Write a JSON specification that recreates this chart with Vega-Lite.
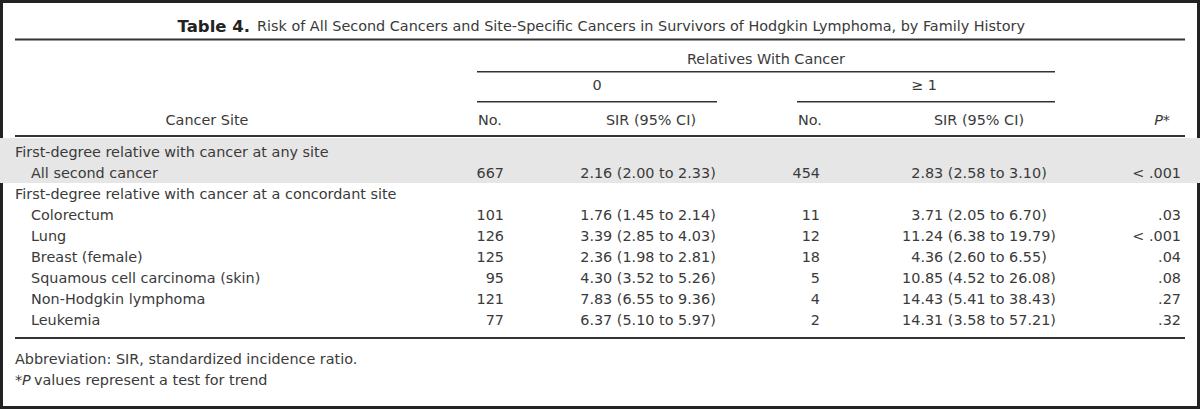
{
  "$schema": "https://vega.github.io/schema/vega-lite/v6.json",
  "width": 1200,
  "height": 409,
  "autosize": {"type": "fit", "contains": "padding"},
  "padding": 0,
  "background": "white",
  "config": {
    "view": {"stroke": "#222222", "strokeWidth": 6},
    "text": {"font": "DejaVu Sans", "fontSize": 14.4, "color": "#3a3a3a", "baseline": "middle"},
    "rule": {"color": "#333333", "strokeWidth": 1.6}
  },
  "datasets": {
    "rows": [
      {"row": 1, "site": "First-degree relative with cancer at any site", "group": true},
      {"row": 2, "site": "All second cancer", "group": false, "no0": 667, "sir0": "2.16 (2.00 to 2.33)", "no1": 454, "sir1": "2.83 (2.58 to 3.10)", "p": "< .001"},
      {"row": 3, "site": "First-degree relative with cancer at a concordant site", "group": true},
      {"row": 4, "site": "Colorectum", "group": false, "no0": 101, "sir0": "1.76 (1.45 to 2.14)", "no1": 11, "sir1": "3.71 (2.05 to 6.70)", "p": ".03"},
      {"row": 5, "site": "Lung", "group": false, "no0": 126, "sir0": "3.39 (2.85 to 4.03)", "no1": 12, "sir1": "11.24 (6.38 to 19.79)", "p": "< .001"},
      {"row": 6, "site": "Breast (female)", "group": false, "no0": 125, "sir0": "2.36 (1.98 to 2.81)", "no1": 18, "sir1": "4.36 (2.60 to 6.55)", "p": ".04"},
      {"row": 7, "site": "Squamous cell carcinoma (skin)", "group": false, "no0": 95, "sir0": "4.30 (3.52 to 5.26)", "no1": 5, "sir1": "10.85 (4.52 to 26.08)", "p": ".08"},
      {"row": 8, "site": "Non-Hodgkin lymphoma", "group": false, "no0": 121, "sir0": "7.83 (6.55 to 9.36)", "no1": 4, "sir1": "14.43 (5.41 to 38.43)", "p": ".27"},
      {"row": 9, "site": "Leukemia", "group": false, "no0": 77, "sir0": "6.37 (5.10 to 5.97)", "no1": 2, "sir1": "14.31 (3.58 to 57.21)", "p": ".32"}
    ],
    "one": [{}]
  },
  "data": {"name": "rows"},
  "layer": [
    {
      "data": {"name": "one"},
      "mark": {"type": "rect", "color": "#e6e6e6"},
      "encoding": {
        "x": {"datum": 0, "type": "quantitative", "scale": {"domain": [0, 1200], "nice": false, "zero": false}, "axis": null},
        "x2": {"datum": 1200},
        "y": {"datum": 0.29, "type": "quantitative", "scale": {"domain": [-6.2857, 13.1905], "reverse": true, "nice": false, "zero": false}, "axis": null},
        "y2": {"datum": 2.43}
      }
    },
    {
      "data": {"name": "one"},
      "mark": {"type": "rule", "strokeWidth": 1.8},
      "encoding": {
        "x": {"datum": 15, "type": "quantitative", "scale": {"domain": [0, 1200], "nice": false, "zero": false}, "axis": null},
        "x2": {"datum": 1185},
        "y": {"datum": -4.405, "type": "quantitative", "scale": {"domain": [-6.2857, 13.1905], "reverse": true, "nice": false, "zero": false}, "axis": null}
      }
    },
    {
      "data": {"name": "one"},
      "mark": {"type": "rule"},
      "encoding": {
        "x": {"datum": 477, "type": "quantitative", "scale": {"domain": [0, 1200], "nice": false, "zero": false}, "axis": null},
        "x2": {"datum": 1055},
        "y": {"datum": -2.871, "type": "quantitative", "scale": {"domain": [-6.2857, 13.1905], "reverse": true, "nice": false, "zero": false}, "axis": null}
      }
    },
    {
      "data": {"name": "one"},
      "mark": {"type": "rule"},
      "encoding": {
        "x": {"datum": 477, "type": "quantitative", "scale": {"domain": [0, 1200], "nice": false, "zero": false}, "axis": null},
        "x2": {"datum": 717},
        "y": {"datum": -1.443, "type": "quantitative", "scale": {"domain": [-6.2857, 13.1905], "reverse": true, "nice": false, "zero": false}, "axis": null}
      }
    },
    {
      "data": {"name": "one"},
      "mark": {"type": "rule"},
      "encoding": {
        "x": {"datum": 797, "type": "quantitative", "scale": {"domain": [0, 1200], "nice": false, "zero": false}, "axis": null},
        "x2": {"datum": 1055},
        "y": {"datum": -1.443, "type": "quantitative", "scale": {"domain": [-6.2857, 13.1905], "reverse": true, "nice": false, "zero": false}, "axis": null}
      }
    },
    {
      "data": {"name": "one"},
      "mark": {"type": "rule", "strokeWidth": 1.8},
      "encoding": {
        "x": {"datum": 15, "type": "quantitative", "scale": {"domain": [0, 1200], "nice": false, "zero": false}, "axis": null},
        "x2": {"datum": 1185},
        "y": {"datum": 0.19, "type": "quantitative", "scale": {"domain": [-6.2857, 13.1905], "reverse": true, "nice": false, "zero": false}, "axis": null}
      }
    },
    {
      "data": {"name": "one"},
      "mark": {"type": "rule", "strokeWidth": 1.8},
      "encoding": {
        "x": {"datum": 15, "type": "quantitative", "scale": {"domain": [0, 1200], "nice": false, "zero": false}, "axis": null},
        "x2": {"datum": 1185},
        "y": {"datum": 9.81, "type": "quantitative", "scale": {"domain": [-6.2857, 13.1905], "reverse": true, "nice": false, "zero": false}, "axis": null}
      }
    },
    {
      "data": {"name": "one"},
      "mark": {"type": "text", "align": "right", "fontWeight": "bold", "fontSize": 16.5, "color": "#222222"},
      "encoding": {
        "x": {"datum": 250, "type": "quantitative", "scale": {"domain": [0, 1200], "nice": false, "zero": false}, "axis": null},
        "y": {"datum": -5.0, "type": "quantitative", "scale": {"domain": [-6.2857, 13.1905], "reverse": true, "nice": false, "zero": false}, "axis": null},
        "text": {"value": "Table 4."}
      }
    },
    {
      "data": {"name": "one"},
      "mark": {"type": "text", "align": "left"},
      "encoding": {
        "x": {"datum": 257, "type": "quantitative", "scale": {"domain": [0, 1200], "nice": false, "zero": false}, "axis": null},
        "y": {"datum": -5.0, "type": "quantitative", "scale": {"domain": [-6.2857, 13.1905], "reverse": true, "nice": false, "zero": false}, "axis": null},
        "text": {"value": "Risk of All Second Cancers and Site-Specific Cancers in Survivors of Hodgkin Lymphoma, by Family History"}
      }
    },
    {
      "data": {"name": "one"},
      "mark": {"type": "text", "align": "center"},
      "encoding": {
        "x": {"datum": 766, "type": "quantitative", "scale": {"domain": [0, 1200], "nice": false, "zero": false}, "axis": null},
        "y": {"datum": -3.4286, "type": "quantitative", "scale": {"domain": [-6.2857, 13.1905], "reverse": true, "nice": false, "zero": false}, "axis": null},
        "text": {"value": "Relatives With Cancer"}
      }
    },
    {
      "data": {"name": "one"},
      "mark": {"type": "text", "align": "center"},
      "encoding": {
        "x": {"datum": 597, "type": "quantitative", "scale": {"domain": [0, 1200], "nice": false, "zero": false}, "axis": null},
        "y": {"datum": -2.19, "type": "quantitative", "scale": {"domain": [-6.2857, 13.1905], "reverse": true, "nice": false, "zero": false}, "axis": null},
        "text": {"value": "0"}
      }
    },
    {
      "data": {"name": "one"},
      "mark": {"type": "text", "align": "center"},
      "encoding": {
        "x": {"datum": 924, "type": "quantitative", "scale": {"domain": [0, 1200], "nice": false, "zero": false}, "axis": null},
        "y": {"datum": -2.19, "type": "quantitative", "scale": {"domain": [-6.2857, 13.1905], "reverse": true, "nice": false, "zero": false}, "axis": null},
        "text": {"value": "≥ 1"}
      }
    },
    {
      "data": {"name": "one"},
      "mark": {"type": "text", "align": "center"},
      "encoding": {
        "x": {"datum": 207, "type": "quantitative", "scale": {"domain": [0, 1200], "nice": false, "zero": false}, "axis": null},
        "y": {"datum": -0.524, "type": "quantitative", "scale": {"domain": [-6.2857, 13.1905], "reverse": true, "nice": false, "zero": false}, "axis": null},
        "text": {"value": "Cancer Site"}
      }
    },
    {
      "data": {"name": "one"},
      "mark": {"type": "text", "align": "left"},
      "encoding": {
        "x": {"datum": 478, "type": "quantitative", "scale": {"domain": [0, 1200], "nice": false, "zero": false}, "axis": null},
        "y": {"datum": -0.524, "type": "quantitative", "scale": {"domain": [-6.2857, 13.1905], "reverse": true, "nice": false, "zero": false}, "axis": null},
        "text": {"value": "No."}
      }
    },
    {
      "data": {"name": "one"},
      "mark": {"type": "text", "align": "center"},
      "encoding": {
        "x": {"datum": 651, "type": "quantitative", "scale": {"domain": [0, 1200], "nice": false, "zero": false}, "axis": null},
        "y": {"datum": -0.524, "type": "quantitative", "scale": {"domain": [-6.2857, 13.1905], "reverse": true, "nice": false, "zero": false}, "axis": null},
        "text": {"value": "SIR (95% CI)"}
      }
    },
    {
      "data": {"name": "one"},
      "mark": {"type": "text", "align": "left"},
      "encoding": {
        "x": {"datum": 798, "type": "quantitative", "scale": {"domain": [0, 1200], "nice": false, "zero": false}, "axis": null},
        "y": {"datum": -0.524, "type": "quantitative", "scale": {"domain": [-6.2857, 13.1905], "reverse": true, "nice": false, "zero": false}, "axis": null},
        "text": {"value": "No."}
      }
    },
    {
      "data": {"name": "one"},
      "mark": {"type": "text", "align": "center"},
      "encoding": {
        "x": {"datum": 979, "type": "quantitative", "scale": {"domain": [0, 1200], "nice": false, "zero": false}, "axis": null},
        "y": {"datum": -0.524, "type": "quantitative", "scale": {"domain": [-6.2857, 13.1905], "reverse": true, "nice": false, "zero": false}, "axis": null},
        "text": {"value": "SIR (95% CI)"}
      }
    },
    {
      "data": {"name": "one"},
      "mark": {"type": "text", "align": "right", "fontStyle": "italic"},
      "encoding": {
        "x": {"datum": 1170, "type": "quantitative", "scale": {"domain": [0, 1200], "nice": false, "zero": false}, "axis": null},
        "y": {"datum": -0.524, "type": "quantitative", "scale": {"domain": [-6.2857, 13.1905], "reverse": true, "nice": false, "zero": false}, "axis": null},
        "text": {"value": "P*"}
      }
    },
    {
      "transform": [{"filter": "datum.group"}],
      "mark": {"type": "text", "align": "left"},
      "encoding": {
        "x": {"datum": 15, "type": "quantitative", "scale": {"domain": [0, 1200], "nice": false, "zero": false}, "axis": null},
        "y": {"field": "row", "type": "quantitative", "scale": {"domain": [-6.2857, 13.1905], "reverse": true, "nice": false, "zero": false}, "axis": null},
        "text": {"field": "site", "type": "nominal"}
      }
    },
    {
      "transform": [{"filter": "!datum.group"}],
      "mark": {"type": "text", "align": "left"},
      "encoding": {
        "x": {"datum": 31, "type": "quantitative", "scale": {"domain": [0, 1200], "nice": false, "zero": false}, "axis": null},
        "y": {"field": "row", "type": "quantitative", "scale": {"domain": [-6.2857, 13.1905], "reverse": true, "nice": false, "zero": false}, "axis": null},
        "text": {"field": "site", "type": "nominal"}
      }
    },
    {
      "transform": [{"filter": "!datum.group"}],
      "mark": {"type": "text", "align": "right"},
      "encoding": {
        "x": {"datum": 504, "type": "quantitative", "scale": {"domain": [0, 1200], "nice": false, "zero": false}, "axis": null},
        "y": {"field": "row", "type": "quantitative", "scale": {"domain": [-6.2857, 13.1905], "reverse": true, "nice": false, "zero": false}, "axis": null},
        "text": {"field": "no0", "type": "quantitative", "format": "d"}
      }
    },
    {
      "transform": [{"filter": "!datum.group"}],
      "mark": {"type": "text", "align": "center"},
      "encoding": {
        "x": {"datum": 648, "type": "quantitative", "scale": {"domain": [0, 1200], "nice": false, "zero": false}, "axis": null},
        "y": {"field": "row", "type": "quantitative", "scale": {"domain": [-6.2857, 13.1905], "reverse": true, "nice": false, "zero": false}, "axis": null},
        "text": {"field": "sir0", "type": "nominal"}
      }
    },
    {
      "transform": [{"filter": "!datum.group"}],
      "mark": {"type": "text", "align": "right"},
      "encoding": {
        "x": {"datum": 820, "type": "quantitative", "scale": {"domain": [0, 1200], "nice": false, "zero": false}, "axis": null},
        "y": {"field": "row", "type": "quantitative", "scale": {"domain": [-6.2857, 13.1905], "reverse": true, "nice": false, "zero": false}, "axis": null},
        "text": {"field": "no1", "type": "quantitative", "format": "d"}
      }
    },
    {
      "transform": [{"filter": "!datum.group"}],
      "mark": {"type": "text", "align": "center"},
      "encoding": {
        "x": {"datum": 979, "type": "quantitative", "scale": {"domain": [0, 1200], "nice": false, "zero": false}, "axis": null},
        "y": {"field": "row", "type": "quantitative", "scale": {"domain": [-6.2857, 13.1905], "reverse": true, "nice": false, "zero": false}, "axis": null},
        "text": {"field": "sir1", "type": "nominal"}
      }
    },
    {
      "transform": [{"filter": "!datum.group"}],
      "mark": {"type": "text", "align": "right"},
      "encoding": {
        "x": {"datum": 1181, "type": "quantitative", "scale": {"domain": [0, 1200], "nice": false, "zero": false}, "axis": null},
        "y": {"field": "row", "type": "quantitative", "scale": {"domain": [-6.2857, 13.1905], "reverse": true, "nice": false, "zero": false}, "axis": null},
        "text": {"field": "p", "type": "nominal"}
      }
    },
    {
      "data": {"name": "one"},
      "mark": {"type": "text", "align": "left"},
      "encoding": {
        "x": {"datum": 15, "type": "quantitative", "scale": {"domain": [0, 1200], "nice": false, "zero": false}, "axis": null},
        "y": {"datum": 10.857, "type": "quantitative", "scale": {"domain": [-6.2857, 13.1905], "reverse": true, "nice": false, "zero": false}, "axis": null},
        "text": {"value": "Abbreviation: SIR, standardized incidence ratio."}
      }
    },
    {
      "data": {"name": "one"},
      "mark": {"type": "text", "align": "left"},
      "encoding": {
        "x": {"datum": 15, "type": "quantitative", "scale": {"domain": [0, 1200], "nice": false, "zero": false}, "axis": null},
        "y": {"datum": 11.857, "type": "quantitative", "scale": {"domain": [-6.2857, 13.1905], "reverse": true, "nice": false, "zero": false}, "axis": null},
        "text": {"value": "*"}
      }
    },
    {
      "data": {"name": "one"},
      "mark": {"type": "text", "align": "left", "fontStyle": "italic"},
      "encoding": {
        "x": {"datum": 22, "type": "quantitative", "scale": {"domain": [0, 1200], "nice": false, "zero": false}, "axis": null},
        "y": {"datum": 11.857, "type": "quantitative", "scale": {"domain": [-6.2857, 13.1905], "reverse": true, "nice": false, "zero": false}, "axis": null},
        "text": {"value": "P"}
      }
    },
    {
      "data": {"name": "one"},
      "mark": {"type": "text", "align": "left"},
      "encoding": {
        "x": {"datum": 34, "type": "quantitative", "scale": {"domain": [0, 1200], "nice": false, "zero": false}, "axis": null},
        "y": {"datum": 11.857, "type": "quantitative", "scale": {"domain": [-6.2857, 13.1905], "reverse": true, "nice": false, "zero": false}, "axis": null},
        "text": {"value": "values represent a test for trend"}
      }
    }
  ]
}
